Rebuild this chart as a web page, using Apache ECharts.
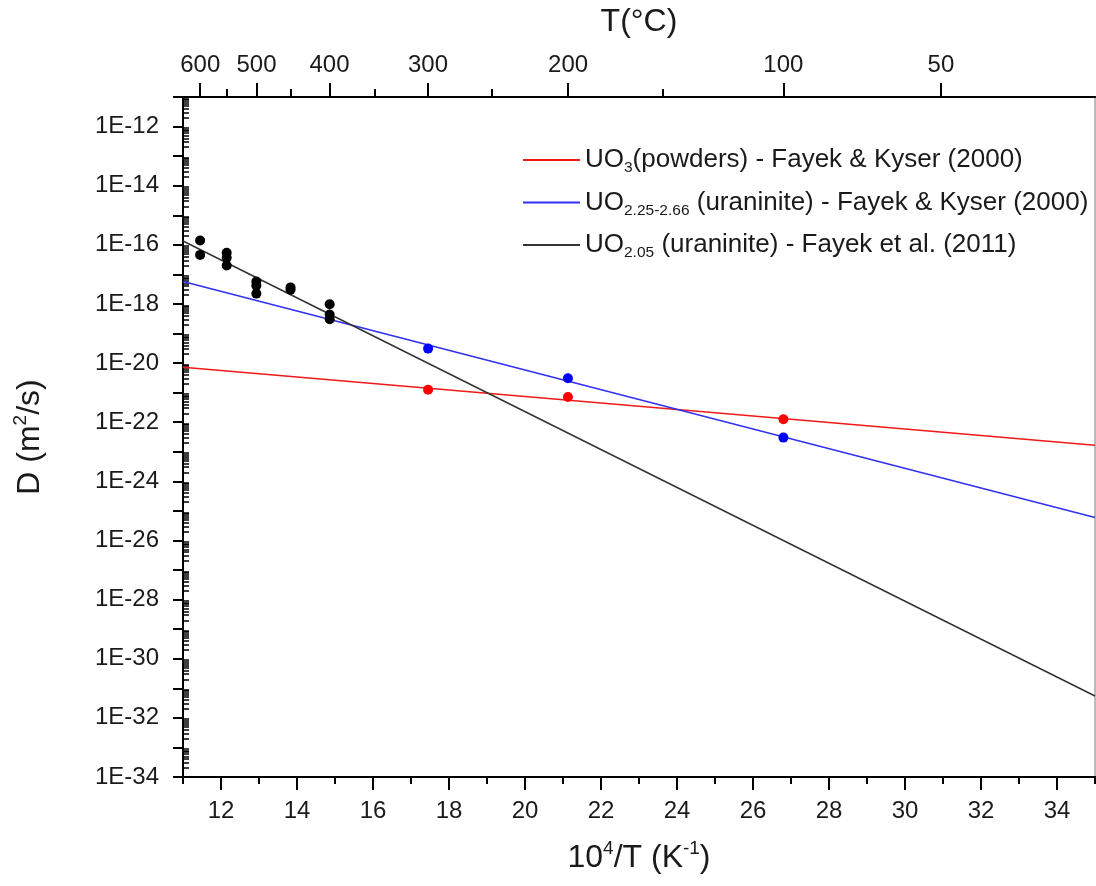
<!DOCTYPE html>
<html><head><meta charset="utf-8">
<script src="https://cdn.jsdelivr.net/npm/echarts@6/dist/echarts.min.js"></script>
<style>html,body{margin:0;padding:0;background:#fff}#c{width:1096px;height:886px}</style>
</head><body><div id="c"></div>
<script>
// ---- axis ranges & ticks ----
const xMin = 11, xMax = 35;
const yMin = 1e-34, yMax = 1e-11;
const bottomMajor = [12, 14, 16, 18, 20, 22, 24, 26, 28, 30, 32, 34];
const bottomMinor = [11, 13, 15, 17, 19, 21, 23, 25, 27, 29, 31, 33, 35];
const topMajorT = [600, 500, 400, 300, 200, 100, 50];
const topMinorT = [550, 450, 350, 250, 150];
const yLabelExp = [-34, -32, -30, -28, -26, -24, -22, -20, -18, -16, -14, -12];
const yMajorExp = [-34,-33,-32,-31,-30,-29,-28,-27,-26,-25,-24,-23,-22,-21,-20,-19,-18,-17,-16,-15,-14,-13,-12,-11];
const yMinorMult = [2, 3, 4, 5, 6, 7, 8, 9];

// ---- data (10^4/T, D in m2/s) ----
const redX = [17.45, 21.13, 26.80];
const redD = [1.26e-21, 7.08e-22, 1.26e-22];
const blueX = [17.45, 21.13, 26.80];
const blueD = [3.09e-20, 3.09e-21, 3.02e-23];
const blackX = [11.45, 11.45, 12.15, 12.15, 12.15, 12.93, 12.93, 12.93, 13.83, 13.83, 14.86, 14.86, 14.86];
const blackD = [1.41e-16, 4.57e-17, 5.37e-17, 3.63e-17, 2.00e-17, 5.75e-18, 4.17e-18, 2.24e-18, 3.63e-18, 3.02e-18, 9.77e-19, 4.37e-19, 3.02e-19];
const fitX = [11, 35];
const redFit = [7.24e-21, 1.66e-23];
const blueFit = [5.75e-18, 6.03e-26];
const blackFit = [1.35e-16, 5.5e-32];

const names = ['UO3', 'UO2.25', 'UO2.05'];
const legendRich = {
  'UO3': '{t|UO}{s|3}{t|(powders) - Fayek & Kyser (2000)}',
  'UO2.25': '{t|UO}{s|2.25-2.66}{t| (uraninite) - Fayek & Kyser (2000)}',
  'UO2.05': '{t|UO}{s|2.05}{t| (uraninite) - Fayek et al. (2011)}'
};

const FONT = "'Liberation Sans', Arial, sans-serif";
const TXT = '#1a1a1a';
const zip = (xs, ys) => xs.map((x, i) => [x, ys[i]]);
const toX = t => 1e4 / (t + 273.15);
const dec = e => Number('1e' + e);

const yMinorVals = [];
for (let e = -34; e <= -12; e++) yMinorVals.push(...yMinorMult.map(k => Number(k + 'e' + e)));

const line = { lineStyle: { color: '#000', width: 2 } };
const baseX = {
  type: 'value', min: xMin, max: xMax, gridIndex: 0, offset: 0,
  splitLine: { show: false }, axisLine: { show: true, onZero: false, ...line }
};
const baseY = {
  type: 'log', logBase: 10, min: yMin, max: yMax, gridIndex: 0, offset: 0,
  splitLine: { show: false }, axisLine: { show: true, onZero: false, ...line }
};
const nameT = { fontSize: 32, lineHeight: 38, color: TXT, fontFamily: FONT };
const sup = { fontSize: 19, lineHeight: 22, verticalAlign: 'top', color: TXT, fontFamily: FONT };

const chart = echarts.init(document.getElementById('c'), null, { renderer: 'canvas' });
chart.setOption({
  animation: false,
  textStyle: { fontFamily: FONT, color: TXT },
  grid: { left: 183, right: 1, top: 97, bottom: 109, show: true, borderColor: '#777', borderWidth: 1, containLabel: false, outerBoundsMode: 'none' },
  legend: {
    data: names, orient: 'vertical', left: 518, top: 142, itemWidth: 57, itemHeight: 2, itemGap: 13.5,
    icon: 'rect',
    selectedMode: false,
    formatter: n => legendRich[n],
    textStyle: {
      rich: {
        t: { fontSize: 26, lineHeight: 32, color: TXT, fontFamily: FONT },
        s: { fontSize: 15.5, lineHeight: 10, verticalAlign: 'bottom', color: TXT, fontFamily: FONT }
      }
    }
  },
  xAxis: [
    { ...baseX, position: 'bottom',
      axisTick: { show: true, length: 13, lineStyle: { width: 2, color: '#000' }, customValues: bottomMajor },
      axisLabel: { show: true, fontSize: 24, margin: 22, color: TXT, customValues: bottomMajor },
      name: '{t|10}{sup|4}{t|/T (K}{sup|-1}{t|)}', nameLocation: 'middle', nameGap: 62, nameMoveOverlap: false,
      nameTextStyle: { rich: { t: nameT, sup } }
    },
    { ...baseX, position: 'bottom',
      axisTick: { show: true, length: 7, lineStyle: { width: 2, color: '#000' }, customValues: bottomMinor },
      axisLabel: { show: false }
    },
    { ...baseX, position: 'top',
      axisTick: { show: true, length: 14, lineStyle: { width: 2, color: '#000' }, customValues: topMajorT.map(toX) },
      axisLabel: { show: true, fontSize: 24, margin: 20, color: TXT, customValues: topMajorT.map(toX),
        formatter: v => String(Math.round(1e4 / v - 273.15)) },
      name: 'T(°C)', nameLocation: 'middle', nameGap: 59, nameMoveOverlap: false,
      nameTextStyle: { fontSize: 32, color: TXT, fontFamily: FONT }
    },
    { ...baseX, position: 'top',
      axisTick: { show: true, length: 8, lineStyle: { width: 2, color: '#000' }, customValues: topMinorT.map(toX) },
      axisLabel: { show: false }
    }
  ],
  yAxis: [
    { ...baseY, position: 'left',
      axisTick: { show: true, length: 10, lineStyle: { width: 2, color: '#000' }, customValues: yMajorExp.map(dec) },
      axisLabel: { show: true, fontSize: 24, margin: 24, color: TXT, customValues: yLabelExp.map(dec),
        formatter: v => '1E' + Math.round(Math.log10(v)) },
      name: '{t|D (m}{sup|2}{t|/s)}', nameLocation: 'middle', nameGap: 134, nameMoveOverlap: false,
      nameTextStyle: { rich: { t: nameT, sup } }
    },
    { ...baseY, position: 'left',
      axisTick: { show: true, inside: true, length: 6, lineStyle: { width: 1.5, color: '#000' }, customValues: yMinorVals },
      axisLabel: { show: false }
    }
  ],
  series: [
    { name: 'UO3', type: 'line', xAxisIndex: 0, yAxisIndex: 0, data: zip(fitX, redFit), symbol: 'none',
      lineStyle: { color: '#f01818', width: 1.5 }, itemStyle: { color: '#f01818' }, z: 3 },
    { name: 'UO2.25', type: 'line', xAxisIndex: 0, yAxisIndex: 0, data: zip(fitX, blueFit), symbol: 'none',
      lineStyle: { color: '#3030f0', width: 1.5 }, itemStyle: { color: '#3030f0' }, z: 3 },
    { name: 'UO2.05', type: 'line', xAxisIndex: 0, yAxisIndex: 0, data: zip(fitX, blackFit), symbol: 'none',
      lineStyle: { color: '#333', width: 1.5 }, itemStyle: { color: '#333' }, z: 3 },
    { name: 'pRed', type: 'scatter', xAxisIndex: 0, yAxisIndex: 0, data: zip(redX, redD), symbolSize: 10,
      itemStyle: { color: '#ff0000', opacity: 1 }, z: 4 },
    { name: 'pBlue', type: 'scatter', xAxisIndex: 0, yAxisIndex: 0, data: zip(blueX, blueD), symbolSize: 10,
      itemStyle: { color: '#0000ff', opacity: 1 }, z: 4 },
    { name: 'pBlack', type: 'scatter', xAxisIndex: 0, yAxisIndex: 0, data: zip(blackX, blackD), symbolSize: 10,
      itemStyle: { color: '#000', opacity: 1 }, z: 4 }
  ]
});
</script></body></html>
